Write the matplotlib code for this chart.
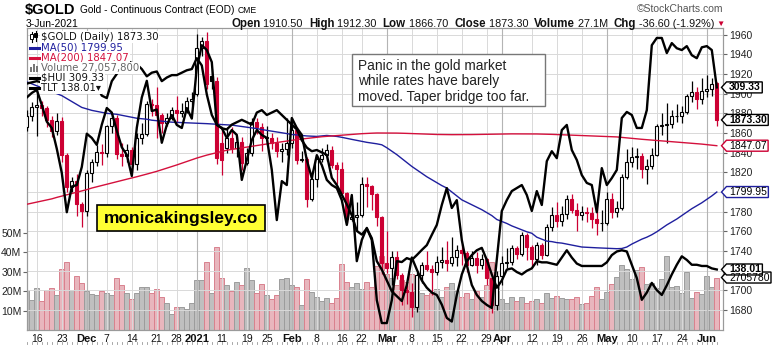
import numpy as np
import pandas as pd
import matplotlib
matplotlib.use('Agg')
from matplotlib import pyplot as plt
from matplotlib.lines import Line2D
from matplotlib.patches import Rectangle, Polygon

plt.rcParams['font.family'] = ['Liberation Sans', 'DejaVu Sans']

W, H = 773, 346

# trading days shown (Nov 12 2020 .. Jun 3 2021, CME holidays removed)
holidays = ['2020-11-26', '2020-12-25', '2021-01-01', '2021-01-18',
            '2021-02-15', '2021-04-02', '2021-05-31']
dates = pd.bdate_range('2020-11-12', '2021-06-03')
dates = dates[~dates.isin(pd.to_datetime(holidays))]

opens = [1866, 1877, 1886, 1888, 1885, 1873, 1862, 1872, 1838, 1805,
         1811, 1788, 1781, 1819, 1830, 1841, 1840, 1867, 1875, 1839,
         1837, 1843, 1828, 1855, 1859, 1889, 1888, 1878, 1870, 1875,
         1883, 1880, 1882, 1893, 1900, 1946, 1954, 1918, 1913, 1850,
         1845, 1855, 1845, 1851, 1829, 1840, 1871, 1866, 1855, 1855,
         1850, 1842, 1844, 1850, 1863, 1833, 1834, 1793, 1813, 1834,
         1838, 1843, 1827, 1823, 1799, 1773, 1775, 1777, 1808, 1806,
         1798, 1775, 1728, 1723, 1734, 1716, 1700, 1698, 1683, 1716,
         1726, 1722, 1719, 1729, 1731, 1728, 1734, 1741, 1738, 1726,
         1733, 1726, 1732, 1712, 1685, 1715, 1728, 1729, 1743, 1737,
         1756, 1744, 1732, 1746, 1736, 1764, 1777, 1770, 1778, 1793,
         1782, 1777, 1780, 1779, 1773, 1768, 1768, 1793, 1780, 1784,
         1815, 1831, 1836, 1837, 1823, 1826, 1838, 1867, 1868, 1869,
         1877, 1877, 1881, 1898, 1902, 1895, 1903, 1905, 1910.5]
highs = [1883, 1892, 1905, 1893, 1887, 1877, 1880, 1876, 1840, 1815,
         1818, 1790, 1822, 1834, 1848, 1849, 1868, 1880, 1878, 1850,
         1849, 1846, 1860, 1870, 1893, 1895, 1907, 1880, 1880, 1886,
         1898, 1890, 1897, 1902, 1961, 1958, 1963, 1925, 1917, 1865,
         1866, 1866, 1857, 1856, 1845, 1875, 1875, 1870, 1867, 1860,
         1856, 1850, 1875, 1875, 1866, 1842, 1836, 1817, 1836, 1845,
         1849, 1847, 1830, 1830, 1800, 1787, 1790, 1815, 1815, 1807,
         1799, 1776, 1760, 1740, 1740, 1718, 1705, 1707, 1719, 1729,
         1740, 1726, 1735, 1744, 1750, 1754, 1746, 1747, 1740, 1740,
         1739, 1737, 1733, 1713, 1720, 1735, 1743, 1746, 1745, 1759,
         1758, 1746, 1749, 1748, 1767, 1785, 1790, 1786, 1797, 1798,
         1789, 1786, 1785, 1785, 1790, 1782, 1800, 1799, 1791, 1818,
         1844, 1846, 1845, 1840, 1834, 1845, 1869, 1880, 1891, 1883,
         1889, 1887, 1900, 1913, 1907, 1916, 1919, 1916, 1912.3]
lows = [1862, 1872, 1857, 1877, 1866, 1856, 1858, 1830, 1800, 1800,
        1776, 1764, 1776, 1810, 1826, 1827, 1836, 1860, 1834, 1826,
        1830, 1820, 1822, 1849, 1857, 1877, 1855, 1860, 1867, 1873,
        1870, 1876, 1880, 1888, 1898, 1938, 1905, 1905, 1828, 1817,
        1840, 1840, 1836, 1822, 1827, 1837, 1859, 1842, 1848, 1844,
        1836, 1830, 1838, 1845, 1828, 1830, 1785, 1791, 1805, 1830,
        1832, 1824, 1808, 1795, 1768, 1770, 1760, 1775, 1785, 1782,
        1765, 1717, 1718, 1705, 1711, 1685, 1686, 1673, 1678, 1707,
        1720, 1695, 1716, 1723, 1720, 1725, 1725, 1726, 1719, 1725,
        1718, 1722, 1705, 1677, 1680, 1705, 1723, 1726, 1732, 1735,
        1731, 1725, 1726, 1732, 1735, 1760, 1764, 1765, 1773, 1779,
        1760, 1772, 1769, 1763, 1756, 1760, 1766, 1774, 1775, 1782,
        1813, 1825, 1823, 1814, 1808, 1823, 1837, 1858, 1850, 1865,
        1871, 1870, 1879, 1892, 1884, 1889, 1897, 1898, 1866.7]
closes = [1877, 1886, 1888, 1885, 1873, 1862, 1872, 1838, 1805, 1811,
          1788, 1781, 1819, 1830, 1841, 1840, 1867, 1875, 1839, 1837,
          1843, 1828, 1855, 1859, 1889, 1888, 1878, 1870, 1875, 1883,
          1880, 1882, 1893, 1895, 1946, 1954, 1910, 1913, 1835, 1833,
          1855, 1845, 1851, 1829, 1840, 1871, 1866, 1855, 1855, 1850,
          1842, 1844, 1850, 1863, 1833, 1834, 1793, 1813, 1834, 1838,
          1843, 1827, 1823, 1799, 1773, 1775, 1777, 1808, 1806, 1798,
          1775, 1728, 1723, 1734, 1716, 1700, 1698, 1683, 1716, 1726,
          1722, 1719, 1729, 1731, 1728, 1734, 1741, 1738, 1726, 1733,
          1726, 1732, 1712, 1685, 1715, 1728, 1729, 1743, 1737, 1756,
          1744, 1732, 1746, 1736, 1764, 1777, 1770, 1778, 1793, 1782,
          1777, 1780, 1779, 1773, 1768, 1768, 1793, 1780, 1784, 1815,
          1831, 1836, 1837, 1823, 1826, 1838, 1867, 1868, 1869, 1877,
          1877, 1881, 1898, 1902, 1895, 1903, 1905, 1909.9, 1873.3]
volume_m = [20.5, 15.6, 21.5, 15, 20.5, 21.5, 18, 31.5, 35, 20.5,
            28, 24, 20, 18.5, 18, 20, 19, 18, 27, 23,
            19, 16, 19, 22, 22, 19, 21, 17, 14, 8,
            12, 12, 11, 14, 26, 26, 35, 19, 42.8, 26.7,
            23, 20, 24.6, 23, 31.9, 26, 19, 23.8, 18, 16,
            18, 26.4, 26.7, 23, 22, 13, 26.4, 19.5, 17, 14.7,
            16.4, 13.8, 16.4, 34, 24.6, 22, 24, 21, 24.6, 22,
            33, 38, 29, 27, 23, 26, 25, 29, 27, 19,
            18, 19, 21, 17, 22, 24, 20, 17, 19, 16,
            20, 17, 23, 35, 24, 16, 14, 17, 15, 17,
            14, 15, 16, 14, 19, 16.5, 17.7, 16.5, 16, 16,
            17, 13.5, 14, 17.7, 22, 16, 19.5, 23.8, 27.5, 33.6,
            31.5, 26.4, 31, 32.4, 23.8, 24.3, 21.5, 26.4, 38, 22,
            22.6, 19, 30, 16.4, 19.8, 18.6, 27.8, 22, 27.0578]
ma50 = [1912, 1910, 1908, 1906, 1904, 1902, 1900, 1898, 1895, 1892,
        1889, 1886, 1884.5, 1883, 1882, 1881, 1880, 1879.5, 1879, 1878,
        1877, 1876, 1875, 1874.5, 1874, 1873, 1872.5, 1872, 1871.5, 1871,
        1870.8, 1870.6, 1870.4, 1870.2, 1870, 1869.8, 1869.5, 1869.2, 1869, 1868.6,
        1868.3, 1868, 1867.3, 1866.6, 1866, 1865.2, 1864.5, 1863.5, 1862.7, 1862,
        1861, 1860.2, 1859.4, 1858.5, 1858, 1857.5, 1857, 1856.7, 1856.5, 1857,
        1857.5, 1857, 1856.5, 1855.6, 1854.5, 1853.5, 1852.5, 1851.6, 1850.5, 1849.8,
        1849, 1848, 1845, 1841.5, 1838, 1834, 1830, 1826, 1822.5, 1819,
        1815.5, 1812.5, 1809.5, 1806.5, 1804, 1800, 1796, 1792, 1789.5, 1787,
        1784.5, 1782, 1779, 1776, 1772, 1770, 1768, 1765.5, 1763.5, 1761.5,
        1759.5, 1758, 1754, 1752, 1750, 1749.5, 1748.5, 1748, 1747, 1746,
        1745, 1744, 1743.7, 1743.5, 1743.2, 1743, 1742.8, 1742.5, 1742.3, 1742.5,
        1744, 1747, 1749.5, 1752, 1754, 1756.5, 1759.5, 1763, 1766.5, 1769.5,
        1772.5, 1776, 1779.5, 1783, 1786, 1789, 1792.5, 1796, 1799.95]
ma200 = [1787.5, 1788.6, 1789.7, 1790.8, 1791.9, 1793, 1794.5, 1795.8, 1797, 1798.3,
         1799.6, 1801, 1802.4, 1804, 1805.3, 1806.6, 1807.9, 1809.2, 1810.4, 1811.7,
         1813, 1814.2, 1815.5, 1816.8, 1818.2, 1819.6, 1821, 1822.6, 1824.2, 1825.8,
         1827.5, 1829.2, 1831, 1832.8, 1834.5, 1836, 1837.5, 1838.8, 1840, 1841.2,
         1842.5, 1843.3, 1844.1, 1844.9, 1845.7, 1846.5, 1847.3, 1848.1, 1848.9, 1849.6,
         1850.3, 1851, 1851.8, 1852.6, 1853.3, 1853.9, 1854.5, 1855, 1855.6, 1856.2,
         1856.6, 1857, 1857.4, 1857.8, 1858.2, 1858.6, 1859, 1859.3, 1859.6, 1859.8,
         1860, 1860, 1860, 1860, 1859.9, 1859.8, 1859.6, 1859.4, 1859.2, 1859,
         1858.8, 1858.6, 1858.5, 1858.4, 1858.3, 1858.3, 1858.3, 1858.3, 1858.3, 1858.4,
         1858.5, 1858.6, 1858.7, 1858.8, 1858.9, 1859, 1859.1, 1859.1, 1859.1, 1859.1,
         1859, 1859, 1859, 1858.9, 1858.8, 1858.6, 1858.4, 1858.2, 1858, 1857.8,
         1857.6, 1857.4, 1857.2, 1857, 1856.8, 1856.6, 1856.4, 1856.2, 1856, 1855.5,
         1855, 1854.5, 1854, 1853.6, 1853.2, 1852.8, 1852.4, 1852, 1851.6, 1851.2,
         1850.8, 1850.4, 1850, 1849.6, 1849.2, 1848.7, 1848.2, 1847.6, 1847.07]
hui = [306, 307.5, 308.5, 303.5, 298, 295.9, 289, 281, 268, 276.5,
       277, 283, 294, 292.6, 290.3, 297, 302.5, 301, 295, 289.5,
       287, 280, 296, 306, 311.5, 301.5, 302, 291, 296.9, 300.2,
       296.9, 295.9, 302.5, 299, 315.7, 323.3, 321.7, 317.7, 296.9, 295.9,
       292.6, 295.2, 293.6, 278.7, 285.3, 291.9, 295.2, 293.6, 292.6, 282,
       265.4, 278.3, 277, 299.2, 295.9, 293.6, 285.3, 279.3, 286.9, 283.6,
       278.7, 277, 276, 272, 263.8, 273.7, 251.8, 258.8, 262.8, 258.8,
       238.9, 231.3, 231.3, 238.9, 251.8, 251.5, 252.8, 252.2, 253.8, 255.5,
       257.1, 260.5, 263.8, 270.4, 276, 269.4, 272, 258.8, 250.5, 243.9,
       240.6, 238.6, 237.3, 236.3, 252.2, 268.4, 272, 275, 276, 277,
       273.7, 268.4, 275, 270.4, 284.9, 288.2, 285.9, 295.2, 296.9, 288.6,
       285.3, 280.3, 277.7, 277, 268, 282.6, 277, 279.3, 282, 299.2,
       301.2, 300.2, 295.9, 295.9, 301.8, 323.3, 325.7, 325.7, 320.7, 324,
       322.3, 321.7, 323, 320, 319, 322.6, 323, 321.7, 309.33]
tlt = [153.4, 153.5, 153.6, 153.5, 153.7, 153.8, 153.6, 153.7, 153.9, 153.8,
       153.6, 153.8, 153.9, 153.9, 153.2, 152.4, 152.2, 153.6, 154.2, 154.7,
       155.3, 155.1, 155.0, 154.6, 154.0, 154.3, 154.4, 153.6, 153.9, 154.1,
       154.1, 154.3, 154.5, 154.6, 155.5, 154.9, 152.5, 150.8, 150.0, 149.7,
       149.6, 150.0, 150.2, 150.4, 150.2, 150.0, 151.0, 151.2, 150.8, 151.0,
       151.2, 150.8, 150.4, 150.0, 149.6, 148.7, 148.1, 147.8, 147.9, 147.7,
       147.5, 145.6, 145.0, 144.2, 143.4, 142.5, 141.2, 140.9, 141.4, 140.6,
       138.7, 138.0, 137.1, 136.2, 135.8, 135.4, 136.7, 139.0, 138.0, 137.1,
       136.5, 136.1, 135.9, 135.1, 134.0, 133.7, 135.9, 137.6, 138.7, 139.2,
       139.6, 139.8, 138.8, 137.6, 136.5, 137.1, 138.0, 138.1, 137.8, 137.6,
       137.9, 138.1, 138.7, 138.6, 138.6, 138.5, 138.4, 139.0, 139.6, 139.0,
       138.5, 138.3, 138.3, 138.3, 138.3, 138.3, 138.6, 139.2, 139.5, 139.6,
       139.5, 138.4, 137.3, 135.5, 136.1, 136.9, 136.3, 135.9, 136.7, 137.6,
       138.4, 139.1, 138.8, 138.4, 138.4, 138.3, 138.3, 138.1, 138.01]

tick_dates = ['2020-11-16', '2020-11-23', '2020-12-01', '2020-12-07', '2020-12-14',
              '2020-12-21', '2020-12-28', '2021-01-04', '2021-01-11', '2021-01-19',
              '2021-01-25', '2021-02-01', '2021-02-08', '2021-02-16', '2021-02-22',
              '2021-03-01', '2021-03-08', '2021-03-15', '2021-03-22', '2021-03-29',
              '2021-04-01', '2021-04-12', '2021-04-19', '2021-04-26', '2021-05-03',
              '2021-05-10', '2021-05-17', '2021-05-24', '2021-06-01']
tick_labels = ['16', '23', 'Dec', '7', '14', '21', '28', '2021', '11', '19', '25', 'Feb',
               '8', '16', '22', 'Mar', '8', '15', '22', '29', 'Apr', '12', '19', '26',
               'May', '10', '17', '24', 'Jun']

RED = '#cc0033'
fx = lambda x: x / W
fy = lambda y: 1 - y / H

n = len(dates)
pos = np.arange(n)
c = np.array(closes, dtype=float)
prev = np.r_[c[0] - 1, c[:-1]]
down = c < prev

fig = plt.figure(figsize=(W / 100, H / 100), dpi=100)
rect = [fx(27), fy(330), fx(722.5) - fx(27), fy(28) - fy(330)]
ax_vol = fig.add_axes(rect)
ax = ax_vol.twinx()
ax_h = ax_vol.twinx()
ax_t = ax_vol.twinx()
ax_vol.yaxis.tick_left()
ax.yaxis.tick_right()
xlim = (0.04, 139.14)

# volume
vcol = np.where(down, '#e8b6bd', '#bfbfbf')
vedge = np.where(down, '#d9818e', '#9c9c9c')
ax_vol.bar(pos, volume_m, width=1.0, color=vcol, edgecolor=vedge, linewidth=0.7)
ax_vol.set_ylim(0, 155.7)
ax_vol.set_xlim(*xlim)
ax_vol.set_yticks([10, 20, 30, 40, 50])
ax_vol.set_yticklabels(['10M', '20M', '30M', '40M', '50M'])
ax_vol.tick_params(axis='y', length=3, pad=1, labelsize=7.5, color='#666', labelcolor='#222')
ax_vol.set_facecolor('white')

# price panel
ax.set_ylim(1659.6, 1966.8)
ax.set_xlim(*xlim)
ax.set_yticks(np.arange(1680, 1961, 20))
ax.tick_params(axis='y', length=3, pad=2, labelsize=7.5, color='#666', labelcolor='#222')
for p in np.arange(1680, 1961, 20):
    ax.axhline(p, color='#d9d9d9', lw=0.7, zorder=0.5)
tick_pos = [dates.get_loc(pd.Timestamp(d)) for d in tick_dates]
for tp, lab in zip(tick_pos, tick_labels):
    month = not lab.isdigit() or lab == '2021'
    ax.axvline(tp, color='#b4b4b4' if month else '#d9d9d9', lw=0.8 if month else 0.7, zorder=0.5)
ax_vol.set_xticks(tick_pos)
ax_vol.set_xticklabels(tick_labels)
ax_vol.tick_params(axis='x', length=0, pad=3, labelsize=7.5, labelcolor='#111')
for t, lab in zip(ax_vol.get_xticklabels(), tick_labels):
    if not lab.isdigit() or lab == '2021':
        t.set_fontweight('bold')
        t.set_fontsize(8)
# small day marks under the date labels
ax_vol.plot(np.repeat(pos, 3), np.tile([-0.040, -0.048, np.nan], n), color='#999', lw=0.6,
            transform=ax_vol.get_xaxis_transform(), clip_on=False)

for i in range(n):
    col = RED if down[i] else 'black'
    o, cl = opens[i], closes[i]
    ax.plot([i, i], [lows[i], highs[i]], color=col, lw=0.9, zorder=3, solid_capstyle='butt')
    body_lo, body_hi = min(o, cl), max(o, cl)
    fc = 'white' if cl >= o else col
    ax.add_patch(Rectangle((i - 0.32, body_lo), 0.64, max(body_hi - body_lo, 0.6),
                           facecolor=fc, edgecolor=col, lw=0.8, zorder=4))

ax.plot(pos, ma50, color='#1f1f9e', lw=1.0, zorder=5)
ax.plot(pos, ma200, color='#d4103c', lw=1.0, zorder=5)

ax_h.plot(pos, hui, color='black', lw=1.7)
ax_h.set_ylim(229, 329)
ax_t.plot(pos, tlt, color='black', lw=1.7)
ax_t.set_ylim(133, 158)
for a in (ax_h, ax_t):
    a.set_xlim(*xlim)
    a.axis('off')

for a in (ax_vol, ax):
    for s in a.spines.values():
        s.set_color('#9a9a9a')
        s.set_linewidth(0.8)

# header
renderer = fig.canvas.get_renderer()
t = fig.text(fx(25), fy(10), '$GOLD', fontsize=10.5, fontweight='bold', va='center')
x = 25 + t.get_window_extent(renderer=renderer).width + 5
t = fig.text(fx(x), fy(10), 'Gold - Continuous Contract (EOD)', fontsize=7.3, va='center')
x += t.get_window_extent(renderer=renderer).width + 3
fig.text(fx(x), fy(10.5), 'CME', fontsize=6.2, va='center')
fig.text(fx(26), fy(24), '3-Jun-2021', fontsize=7.5, va='center')
fig.text(fx(723), fy(9), '\u00a9StockCharts.com', fontsize=7.5, color='#555', ha='right', va='center')

parts = [('Open', 1), (' 1910.50  ', 0), ('High', 1), (' 1912.30  ', 0), ('Low', 1),
         (' 1866.70  ', 0), ('Close', 1), (' 1873.30  ', 0), ('Volume', 1), (' 27.1M  ', 0),
         ('Chg', 1), (' -36.60 (-1.92%)', 0)]
x = 231
for s, b in parts:
    t = fig.text(fx(x), fy(24), s, fontsize=8.3 if b else 7.8, fontweight='bold' if b else 'normal',
                 va='center', color='#111')
    x += t.get_window_extent(renderer=renderer).width
fig.text(fx(x + 2), fy(24), '\u25bc', fontsize=6, color=RED, va='center')

# legend
leg = [('$GOLD (Daily) 1873.30', '#111'), ('MA(50) 1799.95', '#1f1f9e'),
       ('MA(200) 1847.07', '#d4103c'), ('Volume 27,057,800', '#666'),
       ('$HUI 309.33', '#111'), ('TLT 138.01\u25be', '#111')]
rows = [37, 47.5, 58, 68, 78, 88]
for (s, col), yy in zip(leg, rows):
    fig.text(fx(41), fy(yy), s, fontsize=7.3, color=col, va='center', family=['DejaVu Sans'],
             bbox=dict(fc='white', ec='none', pad=0.6), zorder=6)
for yy, col in zip(rows[1:3] + rows[4:], ['#1f1f9e', '#d4103c', 'black', 'black']):
    fig.add_artist(Line2D([fx(30), fx(39)], [fy(yy), fy(yy)], color=col, lw=2.2, zorder=7))
for xx, y0, y1, b0, b1, filled in [(31.5, 32, 42, 34, 39, False), (35.5, 31, 41, 33, 37, True)]:
    fig.add_artist(Line2D([fx(xx), fx(xx)], [fy(y0), fy(y1)], color='black', lw=0.8, zorder=7))
    fig.add_artist(Rectangle((fx(xx - 1.3), fy(b1)), fx(2.6), fy(b0) - fy(b1), transform=fig.transFigure,
                             facecolor='black' if filled else 'white', edgecolor='black', lw=0.7, zorder=7))
for xx, hh in [(31, 5), (34, 8), (37, 6)]:
    fig.add_artist(Rectangle((fx(xx - 1.2), fy(72)), fx(2.4), fy(72 - hh) - fy(72),
                             transform=fig.transFigure, facecolor='#777', edgecolor='none', zorder=7))

# annotation
fig.add_artist(Rectangle((fx(352), fy(106)), fx(545) - fx(352), fy(54) - fy(106),
                         transform=fig.transFigure, facecolor='white', edgecolor='#777', lw=1.0, zorder=6))
fig.text(fx(358), fy(81.5), 'Panic in the gold market\nwhile rates have barely\nmoved. Taper bridge too far.',
         fontsize=9.9, color='#222', va='center', linespacing=1.16, zorder=7)
fig.add_artist(Rectangle((fx(97), fy(231)), fx(265) - fx(97), fy(205) - fy(231),
                         transform=fig.transFigure, facecolor='#ffff33', edgecolor='black', lw=1.2, zorder=6))
fig.text(fx(181), fy(218.5), 'monicakingsley.co', fontsize=12.5, fontweight='bold',
         ha='center', va='center', zorder=7)

# value tags on the right
def tag(axis, val, label, edge, bold=False):
    ypix = axis.transData.transform((xlim[1], val))[1]
    t = fig.text(fx(729), ypix / H, label, fontsize=7.5, fontweight='bold' if bold else 'normal',
                 va='center', color='black', zorder=9)
    bb = t.get_window_extent(renderer=renderer)
    x0, x1, yb, yt = 726.5, bb.x1 + 1.5, ypix - 5.5, ypix + 5.5
    fig.add_artist(Polygon([(fx(721.5), ypix / H), (fx(x0), yt / H), (fx(x1), yt / H),
                            (fx(x1), yb / H), (fx(x0), yb / H)], closed=True,
                           transform=fig.transFigure, facecolor='white', edgecolor=edge, lw=1.0, zorder=8))

tag(ax_h, hui[-1], '309.33', 'black', True)
tag(ax, closes[-1], '1873.30', 'black', True)
tag(ax, ma200[-1], '1847.07', RED)
tag(ax, ma50[-1], '1799.95', '#1f1f9e')
tag(ax_vol, volume_m[-1], '2705780', 'black')
tag(ax_t, tlt[-1], '138.01', 'black', True)

fig.savefig('out.png', dpi=100)
